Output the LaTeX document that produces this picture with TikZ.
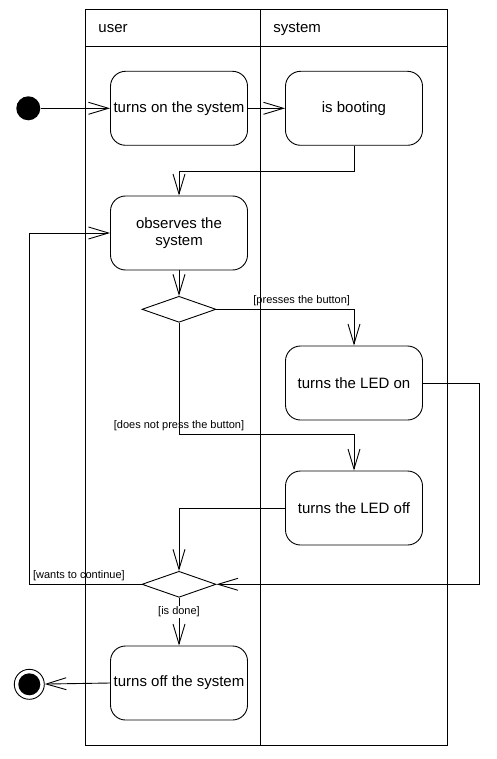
\documentclass[tikz,border=0pt]{standalone}
\usepackage{fontspec}
\setmainfont{Liberation Sans}
\usetikzlibrary{arrows.meta, shapes.geometric}

\begin{document}
\begin{tikzpicture}[
    x=1pt, y=-1pt, line width=0.9pt,
    % Activity nodes
    act/.style={
        draw, rounded corners=15pt, fill=white,
        font=\fontsize{15}{17}\selectfont, minimum width=137pt,
        minimum height=74pt, align=center, inner sep=1pt
    },
    % Decision nodes
    decis/.style={
        draw, diamond, fill=white, inner sep=0pt,
        minimum width=74pt, minimum height=26pt
    },
    % Initial and final nodes
    initial/.style={circle, fill=black, inner sep=0pt, minimum size=24pt},
    final/.style={
        circle, draw, inner sep=0pt, minimum size=30pt,
        path picture={\fill (path picture bounding box.center) circle (11pt);}
    },
    % Guard labels
    guard/.style={font=\fontsize{11}{13}\selectfont, inner sep=1pt},
    lane/.style={font=\fontsize{15}{17}\selectfont, anchor=west, inner sep=0pt},
    flow/.style={draw, -{Straight Barb[length=20pt, width=12pt]}}
]
\useasboundingbox (0,0) rectangle (496,759);

% ---- SWIMLANES ----
\draw (85.7,9.3) rectangle (447.3,745);
\draw (85.7,46) -- (447.3,46);
\draw (260.3,9.3) -- (260.3,745);
\node[lane] (l_user) at (98,29) {user};
\node[lane] (l_sys)  at (273,29) {system};

% ---- START ----
\node[initial] (start) at (28.3,108.3) {};
\node[act] (turnon)  at (179,108.3) {turns on the system};
\node[act] (booting) at (354,108.3) {is booting};

\draw[flow] (start) -- (turnon);
\draw[flow] (turnon) -- (booting);

% ---- OBSERVATION ----
\node[act] (observe) at (179,233) {observes the\\system};

\coordinate (j_boot) at (179,171.3);
\draw[flow] (booting.south) |- (j_boot) -- (observe.north);

% ---- FIRST DECISION ----
\node[decis] (dec1) at (179,309.3) {};
\draw[flow] (observe.south) -- (dec1.north);

\node[act] (ledon)  at (354,383) {turns the LED on};
\node[act] (ledoff) at (354,508) {turns the LED off};

\draw[flow] (dec1.east) -| node[guard, above=2pt, pos=0.31] {[presses the button]} (ledon.north);

\coordinate (j_nopress) at (354,434.3);
\draw[flow] (dec1.south) |- node[guard, above=2pt, pos=0.5] {[does not press the button]} (j_nopress) -- (ledoff.north);

% ---- MERGE / SECOND DECISION ----
\node[decis] (dec2) at (179,584.3) {};

\coordinate (j_on) at (479.3,584.3);
\draw[flow] (ledon.east) -| (j_on) -- (dec2.east);
\draw[flow] (ledoff.west) -| (dec2.north);

% Loop back to observation
\coordinate (j_loop) at (29.7,233);
\draw[flow] (dec2.west) -| node[guard, above=2pt, pos=0.28] {[wants to continue]} (j_loop) -- (observe.west);

% ---- END ----
\node[act] (turnoff) at (179,683) {turns off the system};
\node[final] (stop) at (29.3,684.3) {};

\draw[flow] (dec2.south) -- node[guard, fill=white, pos=0.3] {[is done]} (turnoff.north);
\draw[flow] (turnoff.west) -- (stop);

\end{tikzpicture}
\end{document}
